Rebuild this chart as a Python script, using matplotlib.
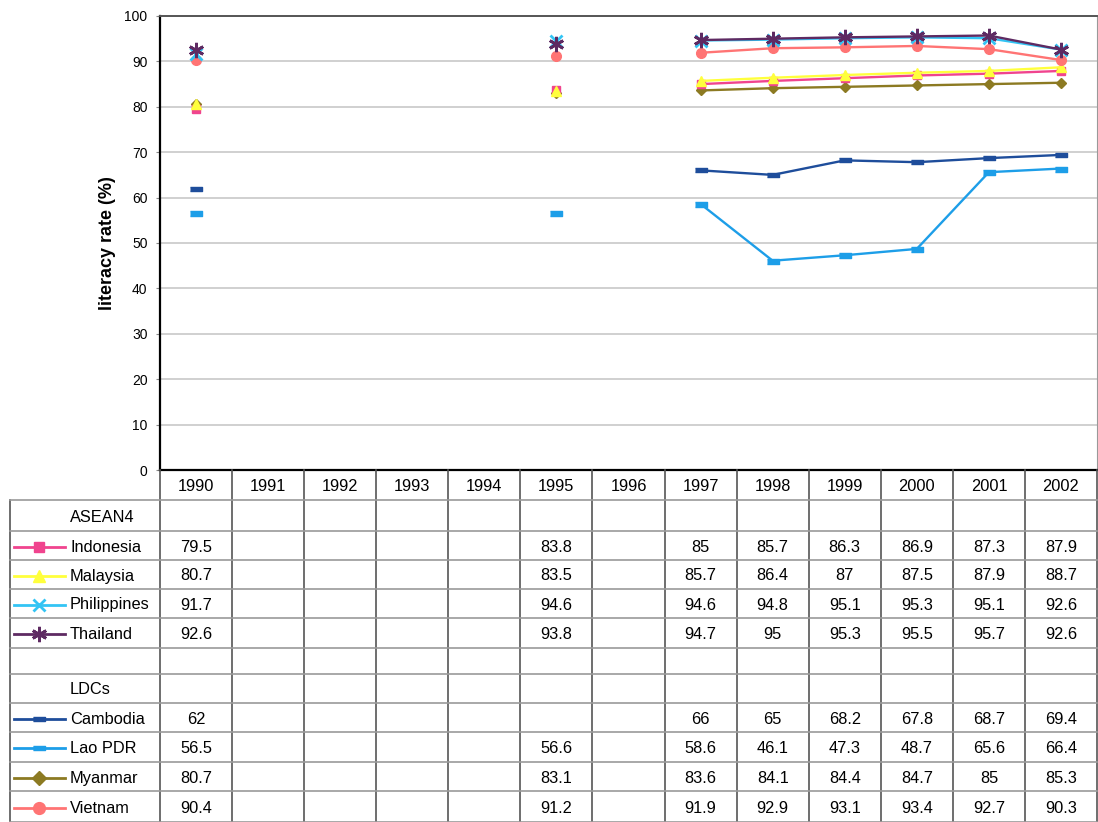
import numpy as np
import matplotlib.pyplot as plt
from matplotlib.lines import Line2D

plt.rcParams['font.family'] = ['Liberation Sans', 'DejaVu Sans']

years = ['1990', '1991', '1992', '1993', '1994', '1995', '1996',
         '1997', '1998', '1999', '2000', '2001', '2002']
nan = np.nan

indonesia = [79.5, nan, nan, nan, nan, 83.8, nan, 85, 85.7, 86.3, 86.9, 87.3, 87.9]
malaysia = [80.7, nan, nan, nan, nan, 83.5, nan, 85.7, 86.4, 87, 87.5, 87.9, 88.7]
philippines = [91.7, nan, nan, nan, nan, 94.6, nan, 94.6, 94.8, 95.1, 95.3, 95.1, 92.6]
thailand = [92.6, nan, nan, nan, nan, 93.8, nan, 94.7, 95, 95.3, 95.5, 95.7, 92.6]
cambodia = [62, nan, nan, nan, nan, nan, nan, 66, 65, 68.2, 67.8, 68.7, 69.4]
lao = [56.5, nan, nan, nan, nan, 56.6, nan, 58.6, 46.1, 47.3, 48.7, 65.6, 66.4]
myanmar = [80.7, nan, nan, nan, nan, 83.1, nan, 83.6, 84.1, 84.4, 84.7, 85, 85.3]
vietnam = [90.4, nan, nan, nan, nan, 91.2, nan, 91.9, 92.9, 93.1, 93.4, 92.7, 90.3]

dash = [(-1, -0.4), (1, -0.4), (1, 0.4), (-1, 0.4)]
star = (6, 2, 0)

# name, values, color, marker, size on chart, size in key, table row
asean = [
    ('Indonesia', indonesia, '#f0448e', 's', 6, 7.5, 2),
    ('Malaysia', malaysia, '#ffff3c', '^', 7.5, 8, 3),
    ('Philippines', philippines, '#33c4f4', 'x', 8, 8, 4),
    ('Thailand', thailand, '#5e2a62', star, 11, 11, 5),
]
ldcs = [
    ('Cambodia', cambodia, '#1e4d9b', dash, 8, 8, 8),
    ('Lao PDR', lao, '#1d9ee8', dash, 9, 8, 9),
    ('Myanmar', myanmar, '#8c7a22', 'D', 5.5, 7, 10),
    ('Vietnam', vietnam, '#ff7474', 'o', 7, 8.5, 11),
]
draw_order = [ldcs[0], ldcs[1], ldcs[2], asean[0], asean[1], ldcs[3], asean[2], asean[3]]

W, H = 1098, 822
fig = plt.figure(figsize=(W / 100, H / 100), dpi=100)

px_l, px_r, px_t, px_b = 160, 1097, 16, 470
ax = fig.add_axes([px_l / W, 1 - px_b / H, (px_r - px_l) / W, (px_b - px_t) / H])
x = np.arange(len(years))
for name, vals, col, mk, ms, ks, row in draw_order:
    ax.plot(x, vals, color=col, lw=1.7, marker=mk, markersize=ms,
            markeredgecolor=col, markeredgewidth=2 if mk in ('x', star) else 1)

ax.set_xlim(-0.5, len(years) - 0.5)
ax.set_ylim(0, 100)
ax.set_yticks(range(0, 101, 10))
ax.set_xticks([])
ax.grid(axis='y', color='#c8c8c8', lw=1.2)
ax.set_axisbelow(True)
ax.tick_params(axis='y', labelsize=10, length=3, pad=6, color='#888888')
ax.set_ylabel('literacy rate (%)', fontsize=13, fontweight='bold', labelpad=6)
ax.spines['left'].set_linewidth(1.6)
ax.spines['bottom'].set_linewidth(1.6)
ax.spines['top'].set_color('#555555')
ax.spines['top'].set_linewidth(1.4)
ax.spines['right'].set_color('#999999')

# table below the plot, in pixel units
colw = (px_r - px_l) / len(years)
lab_l = 10
tab = fig.add_axes([lab_l / W, 0, (px_r - lab_l) / W, 1 - px_b / H])
tab.set_xlim(lab_l, px_r)
tab.set_ylim(H, px_b)
tab.axis('off')

rows = [470, 500, 531, 560, 589, 618, 648, 674, 703, 732, 762, 791, 822]
centers = [(a + b) / 2 + 1.5 for a, b in zip(rows[:-1], rows[1:])]
colx = [px_l + colw * (i + 0.5) for i in range(len(years))]

for i in range(len(years) + 1):
    xx = px_l + colw * i
    tab.plot([xx, xx], [470, 822], color='#555555', lw=1.2, clip_on=False)
tab.plot([lab_l, lab_l], [500, 822], color='#555555', lw=1.2, clip_on=False)
for r in rows[1:]:
    tab.plot([lab_l, px_r], [r, r], color='#9a9a9a', lw=1.2, clip_on=False)

fs = 11.8
for i, yr in enumerate(years):
    tab.text(colx[i], centers[0], yr, ha='center', va='center', fontsize=fs)

tab.text(70, centers[1], 'ASEAN4', ha='left', va='center', fontsize=fs)
tab.text(70, centers[7], 'LDCs', ha='left', va='center', fontsize=fs)

for name, vals, col, mk, ms, ks, row in asean + ldcs:
    yc = centers[row]
    tab.add_line(Line2D([14, 65], [yc, yc], color=col, lw=2))
    tab.add_line(Line2D([39], [yc], color=col, marker=mk, markersize=ks,
                        markeredgecolor=col, markeredgewidth=2 if mk in ('x', star) else 1))
    tab.text(70, yc, name, ha='left', va='center', fontsize=fs)
    for i, v in enumerate(vals):
        if not np.isnan(v):
            tab.text(colx[i], yc, f'{v:g}', ha='center', va='center', fontsize=fs)

fig.savefig('out.png', dpi=100)
